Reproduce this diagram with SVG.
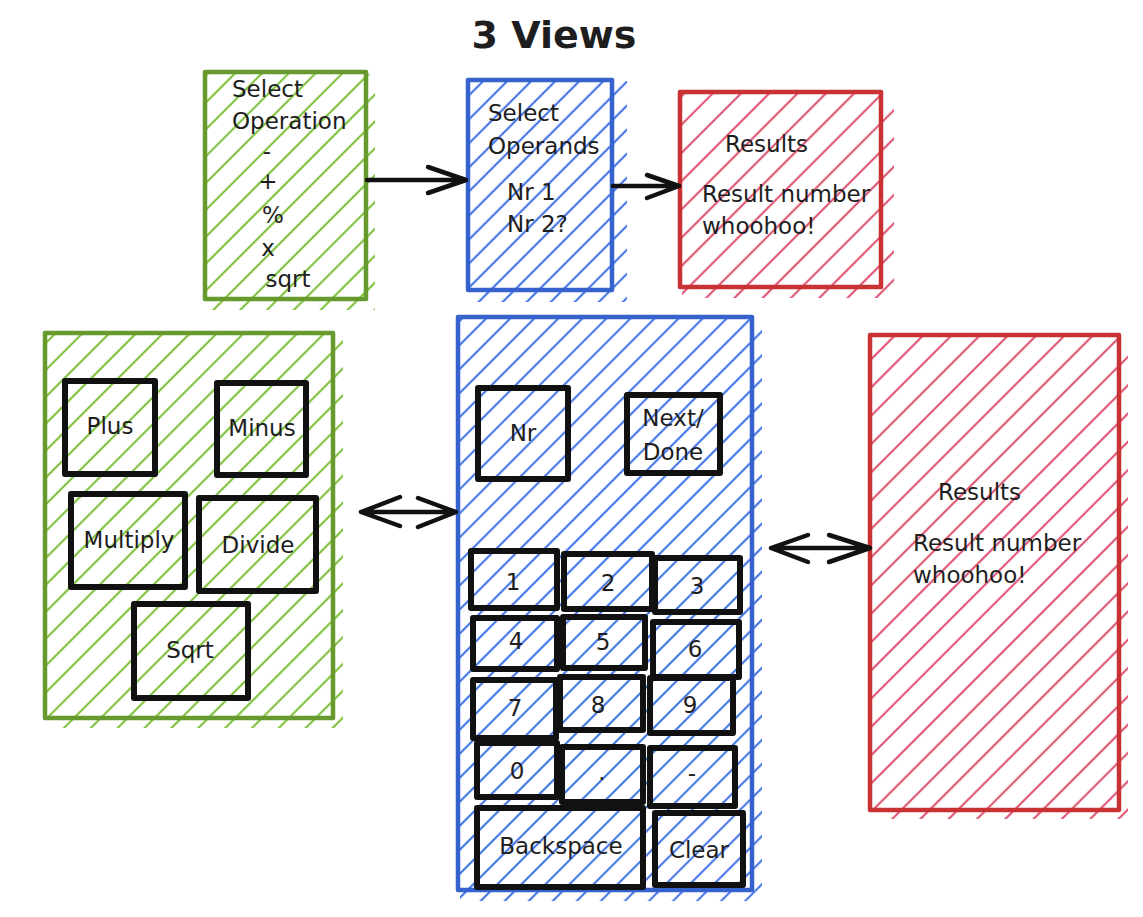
<svg xmlns="http://www.w3.org/2000/svg" width="1143" height="917" viewBox="0 0 1143 917">
<defs>
<pattern id="hg" patternUnits="userSpaceOnUse" width="19" height="19" patternTransform="rotate(45)"><line x1="9" y1="0" x2="9" y2="19" stroke="#82c341" stroke-width="2.2"/></pattern>
<pattern id="hb" patternUnits="userSpaceOnUse" width="17" height="17" patternTransform="rotate(45)"><line x1="8" y1="0" x2="8" y2="17" stroke="#4a7ae8" stroke-width="2.2"/></pattern>
<pattern id="hr" patternUnits="userSpaceOnUse" width="20" height="20" patternTransform="rotate(45)"><line x1="10" y1="0" x2="10" y2="20" stroke="#e05a76" stroke-width="2.2"/></pattern>
</defs>
<style>
.t{font-family:"DejaVu Sans","Liberation Sans",sans-serif;font-size:23px;fill:#1e1e1e}
.m{text-anchor:middle}
.g{fill:none;stroke:#669a2e;stroke-width:4.5;stroke-linejoin:round}
.b{fill:none;stroke:#3562cc;stroke-width:4.5;stroke-linejoin:round}
.r{fill:none;stroke:#c83232;stroke-width:4.5;stroke-linejoin:round}
.k{fill:none;stroke:#111;stroke-width:6;stroke-linejoin:round}
.a{fill:none;stroke:#111;stroke-width:4.5;stroke-linecap:round;stroke-linejoin:round}
</style>
<rect width="1143" height="917" fill="#fff"/>
<text x="554" y="48" class="t m" style="font-size:38px;font-weight:bold">3 Views</text>

<g id="select-operation">
<rect x="207" y="74" width="168" height="236" fill="url(#hg)"/>
<rect x="205" y="72" width="161" height="227" class="g"/>
<text x="232" y="97" class="t">Select</text>
<text x="232" y="129" class="t">Operation</text>
<text x="267" y="159" class="t m">-</text>
<text x="268" y="189" class="t m">+</text>
<text x="273" y="223" class="t m">%</text>
<text x="268" y="256" class="t m">x</text>
<text x="288" y="287" class="t m">sqrt</text>
</g>

<g id="select-operands">
<rect x="470" y="81" width="157" height="221" fill="url(#hb)"/>
<rect x="468" y="80" width="144" height="210" class="b"/>
<text x="488" y="121" class="t">Select</text>
<text x="488" y="154" class="t">Operands</text>
<text x="507" y="200" class="t">Nr 1</text>
<text x="507" y="232" class="t">Nr 2?</text>
</g>

<g id="results-small">
<rect x="682" y="94" width="212" height="204" fill="url(#hr)"/>
<rect x="680" y="92" width="201" height="195" class="r"/>
<text x="725" y="152" class="t">Results</text>
<text x="702" y="202" class="t">Result number</text>
<text x="702" y="234" class="t">whoohoo!</text>
</g>

<g id="operation-view">
<rect x="47" y="335" width="296" height="393" fill="url(#hg)"/>
<rect x="45" y="333" width="288" height="385" class="g"/>
<g id="btn-plus"><rect x="65" y="381" width="90" height="93" class="k"/><text x="110" y="434" class="t m">Plus</text></g>
<g id="btn-minus"><rect x="217" y="383" width="89" height="92" class="k"/><text x="262" y="436" class="t m">Minus</text></g>
<g id="btn-multiply"><rect x="71" y="494" width="114" height="93" class="k"/><text x="129" y="548" class="t m">Multiply</text></g>
<g id="btn-divide"><rect x="199" y="498" width="117" height="93" class="k"/><text x="258" y="553" class="t m">Divide</text></g>
<g id="btn-sqrt"><rect x="134" y="604" width="114" height="94" class="k"/><text x="190" y="658" class="t m">Sqrt</text></g>
</g>

<g id="operands-view">
<rect x="460" y="319" width="302" height="582" fill="url(#hb)"/>
<rect x="458" y="317" width="294" height="573" class="b"/>
<g id="btn-nr"><rect x="478" y="388" width="90" height="91" class="k"/><text x="523" y="441" class="t m">Nr</text></g>
<g id="btn-next"><rect x="627" y="395" width="93" height="78" class="k"/><text x="673" y="426" class="t m">Next/</text><text x="673" y="460" class="t m">Done</text></g>
<g id="key-1"><rect x="471" y="551" width="86" height="57" class="k"/><text x="513" y="590" class="t m">1</text></g>
<g id="key-2"><rect x="564" y="554" width="88" height="55" class="k"/><text x="608" y="591" class="t m">2</text></g>
<g id="key-3"><rect x="655" y="558" width="85" height="54" class="k"/><text x="697" y="594" class="t m">3</text></g>
<g id="key-4"><rect x="473" y="618" width="84" height="51" class="k"/><text x="516" y="649" class="t m">4</text></g>
<g id="key-5"><rect x="563" y="617" width="82" height="51" class="k"/><text x="603" y="650" class="t m">5</text></g>
<g id="key-6"><rect x="653" y="622" width="86" height="55" class="k"/><text x="695" y="657" class="t m">6</text></g>
<g id="key-7"><rect x="473" y="680" width="83" height="58" class="k"/><text x="515" y="716" class="t m">7</text></g>
<g id="key-8"><rect x="560" y="677" width="83" height="53" class="k"/><text x="598" y="713" class="t m">8</text></g>
<g id="key-9"><rect x="650" y="678" width="83" height="55" class="k"/><text x="690" y="713" class="t m">9</text></g>
<g id="key-0"><rect x="477" y="743" width="80" height="54" class="k"/><text x="517" y="779" class="t m">0</text></g>
<g id="key-dot"><rect x="562" y="747" width="81" height="55" class="k"/><text x="602" y="780" class="t m">.</text></g>
<g id="key-minus"><rect x="650" y="748" width="85" height="58" class="k"/><text x="692" y="781" class="t m">-</text></g>
<g id="key-backspace"><rect x="477" y="808" width="166" height="79" class="k"/><text x="561" y="854" class="t m">Backspace</text></g>
<g id="key-clear"><rect x="655" y="813" width="88" height="72" class="k"/><text x="699" y="858" class="t m">Clear</text></g>
</g>

<g id="results-view">
<rect x="872" y="337" width="256" height="482" fill="url(#hr)"/>
<rect x="870" y="335" width="249" height="475" class="r"/>
<text x="938" y="500" class="t">Results</text>
<text x="913" y="551" class="t">Result number</text>
<text x="913" y="583" class="t">whoohoo!</text>
</g>

<g id="connectors">
<path d="M367 180 L466 180 M428 167 L466 180 L428 193" class="a"/>
<path d="M613 186 L679 186 M647 175 L679 186 L647 198" class="a"/>
<path d="M361 512 L456 512 M400 497 L361 512 L400 526 M418 498 L456 512 L418 527" class="a"/>
<path d="M771 548 L870 548 M808 535 L771 548 L808 562 M829 535 L870 548 L829 562" class="a"/>
</g>
</svg>
